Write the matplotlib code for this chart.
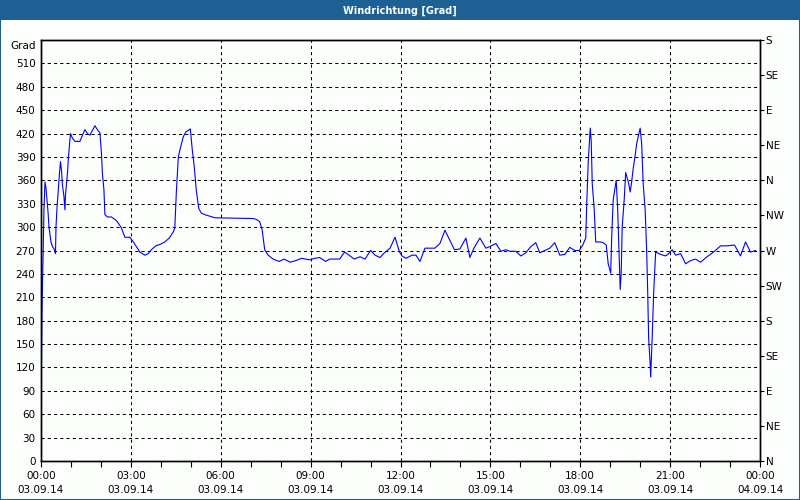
import matplotlib
matplotlib.use("Agg")
import matplotlib.pyplot as plt
from matplotlib.patches import Rectangle
import matplotlib.transforms as mtransforms

# ---- data ----
minutes = [0, 1, 2, 4, 6, 8, 10, 12, 14, 16, 18, 20, 23, 27, 29, 30, 32, 35, 37, 39,
           41, 43, 46, 48, 49, 53, 55, 57, 59, 63, 68, 78, 83, 88, 93, 98, 103, 108, 113, 118,
           121, 123, 126, 128, 133, 141, 150, 156, 161, 168, 178, 185, 191, 198, 208, 215, 221, 230, 239, 248,
           257, 265, 268, 271, 275, 279, 285, 290, 295, 299, 303, 307, 311, 316, 321, 328, 338, 348, 425, 431,
           438, 443, 448, 455, 465, 477, 487, 499, 510, 522, 538, 548, 558, 570, 578, 598, 608, 617, 627, 639,
           649, 660, 669, 679, 686, 699, 709, 718, 723, 731, 743, 751, 759, 769, 779, 789, 799, 809, 819, 828,
           839, 851, 859, 867, 879, 891, 899, 911, 921, 931, 939, 951, 961, 971, 981, 991, 999, 1009, 1019, 1029,
           1039, 1049, 1059, 1069, 1078, 1085, 1091, 1093, 1096, 1100, 1102, 1104, 1108, 1111, 1120, 1126, 1132, 1136, 1141, 1143,
           1146, 1152, 1155, 1158, 1160, 1162, 1164, 1168, 1171, 1174, 1177, 1180, 1183, 1186, 1190, 1193, 1196, 1200, 1203, 1206,
           1210, 1213, 1215, 1217, 1220, 1221, 1224, 1227, 1231, 1241, 1251, 1257, 1264, 1271, 1281, 1291, 1301, 1311, 1321, 1334,
           1347, 1361, 1374, 1389, 1401, 1411, 1421, 1431]
degrees = [70, 130, 194, 262, 324, 358, 350, 335, 320, 300, 290, 281, 275, 271, 266, 300, 324, 352, 369, 384,
           373, 354, 339, 322, 341, 369, 390, 405, 420, 414, 410, 410, 418, 425, 420, 418, 424, 430, 425, 421,
           395, 369, 348, 316, 313, 313, 309, 304, 299, 287, 287, 281, 275, 268, 264, 266, 271, 276, 278, 281,
           286, 294, 299, 344, 390, 401, 416, 422, 424, 426, 399, 377, 347, 324, 318, 316, 314, 312, 311, 310,
           307, 296, 271, 264, 259, 256, 259, 255, 257, 260, 258, 260, 261, 256, 259, 259, 268, 264, 259, 262,
           259, 270, 264, 261, 266, 273, 287, 268, 263, 260, 264, 264, 256, 273, 273, 273, 279, 296, 283, 271,
           272, 286, 261, 273, 286, 273, 275, 279, 269, 271, 269, 269, 263, 267, 275, 280, 267, 270, 273, 280,
           264, 265, 274, 270, 270, 277, 286, 330, 384, 427, 410, 356, 322, 281, 281, 280, 277, 253, 241, 288,
           335, 360, 322, 262, 220, 241, 300, 335, 370, 363, 356, 345, 358, 375, 392, 407, 416, 427, 407, 356,
           322, 270, 219, 157, 125, 108, 157, 215, 268, 265, 263, 266, 271, 264, 266, 253, 257, 259, 255, 262,
           268, 276, 276, 277, 263, 281, 268, 270]

x_tick_minutes = [0, 180, 360, 540, 720, 900, 1080, 1260, 1440]
x_tick_labels = ["00:00\n03.09.14", "03:00\n03.09.14", "06:00\n03.09.14", "09:00\n03.09.14",
                 "12:00\n03.09.14", "15:00\n03.09.14", "18:00\n03.09.14", "21:00\n03.09.14",
                 "00:00\n04.09.14"]
y_left_ticks = list(range(0, 541, 30))
y_left_labels = [str(v) for v in y_left_ticks[:-1]] + ["Grad"]
y_right_ticks = list(range(0, 541, 45))
y_right_labels = ["N", "NE", "E", "SE", "S", "SW", "W", "NW", "N", "NE", "E", "SE", "S"]
title = "Windrichtung [Grad]"

# ---- figure ----
bg = "#fcfefc"
blue_bar = "#1c6094"
plt.rcParams['font.family'] = ['DejaVu Sans']
plt.rcParams['font.size'] = 7.5

fig = plt.figure(figsize=(8, 5), dpi=100, facecolor=bg)
# title bar and frame
fig.patches.append(Rectangle((0, 0.96), 1, 0.04, transform=fig.transFigure,
                             facecolor=blue_bar, edgecolor='none', zorder=0))
fig.patches.append(Rectangle((0.0006, 0.001), 0.9988, 0.998, transform=fig.transFigure,
                             facecolor='none', edgecolor=blue_bar, linewidth=1.5, zorder=0))
fig.text(0.5, 0.979, title, color='white', fontweight='bold', fontsize=7,
         ha='center', va='center')

ax = fig.add_axes([41/800, 1-461/500, 719/800, 421/500])
ax.set_facecolor(bg)
ax.plot(minutes, degrees, color='#0000ff', linewidth=0.8, zorder=3)
ax.set_xlim(0, 1440)
ax.set_ylim(0, 540)

ax.set_xticks(x_tick_minutes)
ax.set_xticklabels(x_tick_labels, linespacing=1.55)
ax.set_xticks(range(0, 1441, 60), minor=True)
ax.set_yticks(y_left_ticks)
ax.set_yticklabels(y_left_labels)

ax.tick_params(axis='y', which='both', length=0, pad=4)
ax.tick_params(axis='x', which='both', length=4, width=0.8, direction='out', pad=3)
ax.grid(True, which='major', color='black', linestyle=(0, (3, 3)), linewidth=0.75)

# shift the top "Grad" label slightly downward, as in the reference
top_lbl = ax.get_yticklabels()[-1]
top_lbl.set_transform(top_lbl.get_transform() +
                      mtransforms.ScaledTranslation(0, -5/100, fig.dpi_scale_trans))

for s in ax.spines.values():
    s.set_linewidth(1.0)
    s.set_color('black')

ax2 = ax.twinx()
ax2.set_ylim(0, 540)
ax2.set_yticks(y_right_ticks)
ax2.set_yticklabels(y_right_labels)
ax2.tick_params(axis='y', length=3, width=0.8, direction='out', pad=1)
for s in ax2.spines.values():
    s.set_linewidth(1.0)

fig.savefig("out.png", dpi=100, facecolor=bg)
